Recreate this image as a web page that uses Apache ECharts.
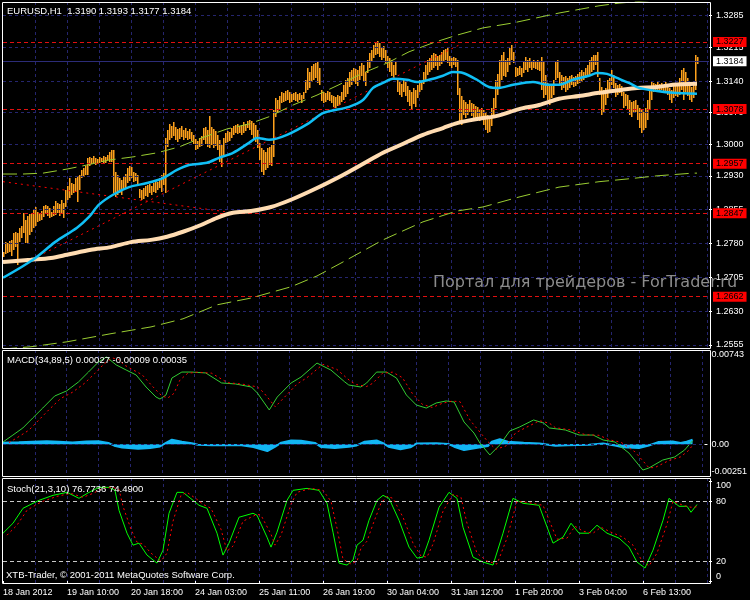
<!DOCTYPE html>
<html><head><meta charset="utf-8">
<script src="https://cdn.jsdelivr.net/npm/echarts@6/dist/echarts.min.js"></script>
<style>html,body{margin:0;padding:0;background:#000;}#c{width:750px;height:600px;}</style>
</head><body><div id="c"></div>
<script>
// ---------- DATA ----------
const N_SLOTS = 354;            // bar slots on the time axis (incl. right shift)
const LABEL_STEP = 32, GRID_STEP = 16;
const xLabels = ['18 Jan 2012','19 Jan 10:00','20 Jan 18:00','24 Jan 03:00','25 Jan 11:00','26 Jan 19:00','30 Jan 04:00','31 Jan 12:00','1 Feb 20:00','3 Feb 04:00','6 Feb 13:00'];
const priceTicks = [1.3285,1.3215,1.3140,1.3070,1.3000,1.2930,1.2855,1.2780,1.2705,1.2630,1.2555];
const levels = [1.3227,1.3078,1.2957,1.2847,1.2662];
const bidPrice = 1.3184;
const macdTicks = [-0.00251, 0, 0.00743];
const macdTickText = ['-0.00251','0.00','0.00743'];
const stochTicks = [0, 20, 80, 100];
const stochLevels = [80, 20];

const barHigh = [
1.2761,1.2783,1.2781,1.2786,1.2788,1.2803,1.2806,1.2803,1.2815,1.2819,
1.2848,1.2832,1.2841,1.2846,1.2848,1.2854,1.2861,1.2850,1.2848,1.2852,
1.2863,1.2866,1.2863,1.2859,1.2850,1.2863,1.2874,1.2870,1.2868,1.2877,
1.2870,1.2899,1.2908,1.2925,1.2914,1.2912,1.2925,1.2930,1.2932,1.2943,
1.2948,1.2952,1.2970,1.2972,1.2970,1.2974,1.2970,1.2967,1.2972,1.2970,
1.2974,1.2972,1.2976,1.2983,1.2987,1.2987,1.2939,1.2932,1.2925,1.2921,
1.2930,1.2934,1.2948,1.2952,1.2950,1.2939,1.2936,1.2932,1.2901,1.2899,
1.2903,1.2908,1.2910,1.2912,1.2908,1.2914,1.2921,1.2917,1.2925,1.2932,
1.2936,1.3014,1.3032,1.3045,1.3041,1.3050,1.3038,1.3034,1.3036,1.3041,
1.3032,1.3036,1.3030,1.3034,1.3027,1.3021,1.3012,1.3007,1.3014,1.3018,
1.3036,1.3038,1.3032,1.3063,1.3038,1.3034,1.3030,1.3021,1.3010,1.2999,
1.3014,1.3025,1.3030,1.3027,1.3036,1.3041,1.3043,1.3045,1.3041,1.3043,
1.3050,1.3045,1.3052,1.3054,1.3052,1.3047,1.3043,1.3032,1.3003,1.2992,
1.2987,1.2983,1.2992,1.2994,1.2999,1.3076,1.3103,1.3098,1.3107,1.3116,
1.3114,1.3118,1.3120,1.3116,1.3112,1.3114,1.3116,1.3112,1.3114,1.3109,
1.3116,1.3143,1.3169,1.3160,1.3174,1.3178,1.3180,1.3183,1.3169,1.3120,
1.3116,1.3114,1.3118,1.3116,1.3109,1.3107,1.3105,1.3109,1.3107,1.3116,
1.3132,1.3143,1.3147,1.3160,1.3165,1.3169,1.3167,1.3165,1.3174,1.3180,
1.3176,1.3160,1.3187,1.3202,1.3209,1.3220,1.3227,1.3229,1.3225,1.3214,
1.3218,1.3209,1.3196,1.3191,1.3187,1.3176,1.3183,1.3143,1.3138,1.3134,
1.3143,1.3138,1.3129,1.3120,1.3116,1.3125,1.3120,1.3132,1.3143,1.3138,
1.3160,1.3176,1.3187,1.3191,1.3198,1.3202,1.3200,1.3196,1.3198,1.3205,
1.3209,1.3211,1.3214,1.3196,1.3191,1.3194,1.3191,1.3187,1.3125,1.3107,
1.3098,1.3094,1.3089,1.3098,1.3092,1.3089,1.3085,1.3083,1.3078,1.3081,
1.3076,1.3072,1.3065,1.3058,1.3081,1.3103,1.3143,1.3156,1.3187,1.3198,
1.3205,1.3187,1.3191,1.3214,1.3220,1.3205,1.3171,1.3169,1.3174,1.3169,
1.3183,1.3194,1.3187,1.3191,1.3183,1.3187,1.3185,1.3187,1.3183,1.3194,
1.3183,1.3154,1.3136,1.3132,1.3134,1.3143,1.3183,1.3187,1.3160,1.3154,
1.3149,1.3152,1.3147,1.3152,1.3154,1.3149,1.3152,1.3156,1.3160,1.3165,
1.3160,1.3169,1.3176,1.3187,1.3194,1.3198,1.3198,1.3205,1.3147,1.3127,
1.3120,1.3125,1.3143,1.3147,1.3165,1.3154,1.3136,1.3132,1.3134,1.3129,
1.3116,1.3112,1.3109,1.3098,1.3094,1.3096,1.3098,1.3087,1.3081,1.3076,
1.3072,1.3081,1.3098,1.3125,1.3138,1.3136,1.3134,1.3138,1.3134,1.3136,
1.3132,1.3138,1.3134,1.3125,1.3120,1.3129,1.3134,1.3132,1.3147,1.3165,
1.3169,1.3160,1.3147,1.3132,1.3127,1.3138,1.3198,1.3193];
const barLow = [
1.2750,1.2757,1.2759,1.2761,1.2752,1.2766,1.2772,1.2733,1.2783,1.2792,
1.2803,1.2781,1.2779,1.2799,1.2806,1.2815,1.2819,1.2828,1.2830,1.2832,
1.2839,1.2846,1.2841,1.2837,1.2839,1.2841,1.2843,1.2848,1.2841,1.2846,
1.2837,1.2861,1.2877,1.2881,1.2888,1.2892,1.2894,1.2872,1.2899,1.2925,
1.2928,1.2932,1.2932,1.2952,1.2956,1.2959,1.2954,1.2956,1.2959,1.2961,
1.2959,1.2959,1.2965,1.2961,1.2961,1.2892,1.2883,1.2888,1.2892,1.2888,
1.2899,1.2903,1.2914,1.2919,1.2925,1.2917,1.2919,1.2910,1.2881,1.2877,
1.2879,1.2885,1.2883,1.2892,1.2888,1.2894,1.2892,1.2899,1.2903,1.2894,
1.2910,1.2892,1.2994,1.3010,1.3014,1.3018,1.3010,1.3005,1.3012,1.3016,
1.3010,1.3014,1.3010,1.3012,1.3007,1.3001,1.2987,1.2990,1.2994,1.2996,
1.3010,1.3001,1.2994,1.2992,1.2999,1.2992,1.2996,1.2987,1.2961,1.2950,
1.2976,1.3003,1.3005,1.3007,1.3014,1.3021,1.3025,1.3023,1.3025,1.3021,
1.3025,1.3030,1.3036,1.3032,1.3021,1.3010,1.3005,1.2992,1.2965,1.2939,
1.2932,1.2943,1.2948,1.2954,1.2952,1.2972,1.3061,1.3069,1.3076,1.3092,
1.3094,1.3096,1.3098,1.3092,1.3094,1.3098,1.3096,1.3094,1.3098,1.3092,
1.3101,1.3114,1.3120,1.3125,1.3138,1.3143,1.3147,1.3136,1.3132,1.3096,
1.3092,1.3094,1.3098,1.3096,1.3092,1.3083,1.3081,1.3085,1.3087,1.3094,
1.3098,1.3105,1.3112,1.3127,1.3132,1.3138,1.3134,1.3129,1.3143,1.3152,
1.3138,1.3129,1.3158,1.3169,1.3183,1.3191,1.3198,1.3200,1.3194,1.3187,
1.3191,1.3180,1.3169,1.3160,1.3152,1.3143,1.3154,1.3116,1.3109,1.3105,
1.3116,1.3107,1.3094,1.3085,1.3076,1.3089,1.3083,1.3103,1.3116,1.3120,
1.3134,1.3143,1.3154,1.3160,1.3165,1.3169,1.3174,1.3165,1.3174,1.3178,
1.3183,1.3187,1.3180,1.3174,1.3169,1.3176,1.3171,1.3109,1.3050,1.3043,
1.3065,1.3058,1.3065,1.3072,1.3063,1.3058,1.3054,1.3061,1.3052,1.3054,
1.3043,1.3032,1.3025,1.3027,1.3041,1.3058,1.3081,1.3109,1.3127,1.3143,
1.3152,1.3149,1.3160,1.3176,1.3187,1.3180,1.3149,1.3152,1.3154,1.3149,
1.3158,1.3165,1.3160,1.3169,1.3165,1.3169,1.3167,1.3165,1.3163,1.3120,
1.3103,1.3109,1.3098,1.3087,1.3103,1.3109,1.3143,1.3147,1.3129,1.3120,
1.3125,1.3116,1.3120,1.3125,1.3132,1.3127,1.3129,1.3134,1.3136,1.3138,
1.3143,1.3147,1.3152,1.3154,1.3160,1.3165,1.3176,1.3149,1.3109,1.3065,
1.3072,1.3087,1.3103,1.3116,1.3132,1.3125,1.3105,1.3109,1.3114,1.3107,
1.3081,1.3085,1.3076,1.3065,1.3061,1.3069,1.3072,1.3054,1.3036,1.3025,
1.3032,1.3036,1.3054,1.3076,1.3098,1.3116,1.3116,1.3120,1.3118,1.3120,
1.3116,1.3118,1.3109,1.3098,1.3092,1.3103,1.3107,1.3105,1.3109,1.3120,
1.3098,1.3116,1.3107,1.3098,1.3094,1.3103,1.3120,1.3177];

// moving averages / envelopes as [bar, price]
const maFast = [[0,1.2704],[15,1.2744],[26,1.2783],[37,1.2815],[43,1.2839],[48,1.2866],[55,1.2888],[63,1.2905],[72,1.2914],[80,1.2925],[87,1.2943],[93,1.2954],[102,1.2959],[108,1.2970],[115,1.2981],[123,1.3003],[127,1.3014],[133,1.3010],[142,1.3021],[153,1.3047],[160,1.3069],[173,1.3083],[180,1.3098],[185,1.3125],[190,1.3136],[195,1.3145],[202,1.3143],[207,1.3138],[213,1.3143],[220,1.3152],[225,1.3160],[230,1.3158],[237,1.3143],[243,1.3127],[248,1.3125],[255,1.3132],[265,1.3138],[272,1.3132],[278,1.3132],[285,1.3143],[293,1.3152],[297,1.3158],[302,1.3156],[307,1.3147],[313,1.3136],[318,1.3125],[327,1.3118],[335,1.3114],[347,1.3112]];
const maSlow = [[0,1.2739],[14,1.2744],[24,1.2748],[32,1.2755],[44,1.2766],[54,1.2772],[64,1.2783],[74,1.2788],[82,1.2795],[90,1.2806],[99,1.2821],[107,1.2837],[115,1.2848],[124,1.2852],[134,1.2861],[144,1.2877],[157,1.2903],[170,1.2932],[179,1.2954],[190,1.2981],[199,1.2999],[210,1.3021],[220,1.3036],[227,1.3047],[237,1.3056],[247,1.3063],[258,1.3078],[268,1.3087],[278,1.3101],[288,1.3107],[298,1.3114],[308,1.3120],[317,1.3125],[327,1.3127],[335,1.3132],[347,1.3134]];
const envUpper = [[0,1.2934],[10,1.2934],[20,1.2936],[32,1.2945],[42,1.2954],[53,1.2965],[65,1.2972],[77,1.2981],[88,1.2994],[98,1.3012],[112,1.3034],[123,1.3045],[133,1.3061],[145,1.3087],[157,1.3109],[168,1.3132],[180,1.3158],[192,1.3180],[203,1.3205],[215,1.3225],[227,1.3242],[240,1.3258],[255,1.3269],[278,1.3291],[298,1.3307],[308,1.3313],[347,1.3327]];
const envLower = [[0,1.2546],[14,1.2551],[32,1.2562],[54,1.2580],[74,1.2595],[90,1.2613],[107,1.2644],[124,1.2659],[144,1.2684],[157,1.2708],[170,1.2739],[190,1.2788],[210,1.2828],[227,1.2852],[240,1.2861],[258,1.2883],[278,1.2905],[298,1.2917],[312,1.2923],[327,1.2930],[345,1.2936],[347,1.2936]];
const trendLines = [[[0,1.2917],[112,1.2850]],[[15,1.2746],[228,1.3220]]];

// MACD(34,89,5) as [bar, value]
const macdMain = [[0,0.00017],[5,0.00072],[10,0.00128],[15,0.00207],[20,0.00285],[26,0.00380],[32,0.00420],[38,0.00491],[43,0.00569],[48,0.00648],[52,0.00688],[53,0.00680],[57,0.00625],[62,0.00585],[67,0.00546],[72,0.00451],[77,0.00372],[79,0.00356],[82,0.00388],[85,0.00522],[90,0.00569],[95,0.00569],[102,0.00562],[110,0.00483],[117,0.00475],[125,0.00451],[128,0.00404],[134,0.00270],[138,0.00372],[145,0.00483],[150,0.00530],[158,0.00640],[165,0.00585],[172,0.00491],[174,0.00467],[180,0.00451],[183,0.00483],[188,0.00569],[193,0.00569],[198,0.00522],[203,0.00388],[208,0.00309],[213,0.00285],[218,0.00325],[223,0.00341],[227,0.00333],[232,0.00175],[237,0.00088],[240,0.00009],[245,-0.00085],[250,-0.00006],[255,0.00104],[260,0.00136],[267,0.00191],[272,0.00167],[275,0.00128],[283,0.00112],[290,0.00072],[297,0.00072],[302,0.00033],[308,0.00017],[315,-0.00070],[322,-0.00204],[325,-0.00188],[332,-0.00125],[338,-0.00101],[343,-0.00046],[347,0.00027]];
const macdSignal = [[3,0.00012],[8,0.00060],[13,0.00110],[18,0.00190],[23,0.00270],[29,0.00360],[35,0.00410],[41,0.00480],[46,0.00555],[51,0.00635],[55,0.00680],[58,0.00670],[61,0.00625],[65,0.00590],[70,0.00548],[75,0.00460],[80,0.00380],[83,0.00365],[86,0.00400],[89,0.00505],[93,0.00560],[98,0.00568],[105,0.00560],[113,0.00485],[120,0.00475],[128,0.00452],[131,0.00410],[137,0.00295],[141,0.00360],[148,0.00475],[153,0.00525],[161,0.00630],[168,0.00590],[175,0.00495],[178,0.00470],[183,0.00455],[186,0.00480],[191,0.00560],[196,0.00568],[201,0.00525],[206,0.00400],[211,0.00315],[216,0.00290],[221,0.00322],[226,0.00340],[230,0.00335],[235,0.00190],[240,0.00095],[244,0.00020],[248,-0.00040],[253,-0.00015],[258,0.00090],[263,0.00130],[270,0.00185],[275,0.00165],[278,0.00130],[286,0.00112],[293,0.00075],[300,0.00070],[305,0.00035],[311,0.00015],[318,-0.00060],[325,-0.00185],[328,-0.00185],[335,-0.00130],[341,-0.00100],[345,-0.00050],[347,-0.00009]];
const macdHist = [[0,0.00012],[8,0.00015],[15,0.00020],[22,0.00024],[28,0.00020],[35,0.00014],[42,0.00022],[48,0.00024],[53,0.00010],[56,-0.00012],[60,-0.00026],[68,-0.00036],[74,-0.00030],[79,-0.00018],[82,0.00010],[85,0.00035],[90,0.00020],[95,0.00008],[98,-0.00005],[105,-0.00008],[120,-0.00008],[126,-0.00022],[133,-0.00055],[137,-0.00020],[140,0.00012],[145,0.00030],[150,0.00028],[157,0.00010],[160,-0.00022],[167,-0.00030],[174,-0.00020],[178,-0.00010],[182,0.00020],[188,0.00030],[191,0.00010],[194,-0.00020],[200,-0.00040],[205,-0.00025],[208,0.00005],[218,0.00008],[224,0.00002],[227,-0.00020],[232,-0.00047],[238,-0.00030],[244,-0.00015],[246,0.00020],[250,0.00040],[254,0.00020],[262,0.00012],[270,0.00005],[278,-0.00012],[284,-0.00008],[295,-0.00005],[302,0.00005],[308,-0.00010],[312,-0.00025],[320,-0.00030],[325,-0.00010],[330,0.00018],[337,0.00022],[341,0.00010],[344,0.00020],[347,0.00035]];

// Stoch(21,3,10) as [bar, value]
const stochMain = [[0,48],[5,58],[10,73],[15,78],[18,81],[25,86],[32,89],[38,83],[43,89],[48,94],[53,94],[56,91],[58,71],[62,48],[65,36],[68,38],[72,26],[77,18],[80,31],[83,68],[87,89],[90,89],[95,81],[98,76],[102,73],[107,48],[110,26],[113,38],[118,64],[125,68],[127,66],[132,44],[134,34],[137,49],[142,81],[145,91],[152,93],[158,91],[162,78],[165,49],[168,18],[172,16],[175,21],[177,36],[180,41],[183,61],[187,81],[190,86],[193,83],[198,61],[203,34],[207,23],[210,24],[213,41],[218,74],[223,89],[227,83],[230,54],[235,24],[240,19],[245,16],[250,48],[255,83],[260,78],[268,76],[275,38],[280,44],[284,58],[288,48],[293,48],[297,56],[302,48],[308,43],[313,34],[317,19],[321,13],[325,31],[330,61],[333,83],[338,75],[342,75],[344,69],[347,76.7736]];
const stochSignal = [[2,46],[7,56],[12,71],[17,77],[20,80],[27,85],[34,88],[40,84],[45,88],[50,93],[55,94],[58,92],[60,75],[64,52],[67,39],[70,37],[74,28],[79,20],[82,28],[85,60],[89,86],[92,89],[97,82],[100,77],[104,73],[109,52],[112,30],[115,35],[120,60],[127,67],[129,66],[134,47],[136,36],[139,46],[144,77],[147,89],[154,93],[160,91],[164,80],[167,53],[170,22],[174,17],[177,20],[179,33],[182,40],[185,57],[189,78],[192,85],[195,83],[200,64],[205,38],[209,25],[212,24],[215,37],[220,70],[225,87],[229,84],[232,58],[237,28],[242,20],[247,17],[252,43],[257,80],[262,79],[270,76],[277,42],[282,43],[286,55],[290,50],[295,48],[299,54],[304,49],[310,44],[315,36],[319,22],[323,15],[327,28],[332,57],[335,80],[340,76],[344,74],[347,74.49]];

// ---------- CHART ----------
const FONT = 'Liberation Sans';
const NAVY = '#25256e';
const BAR_COLOR = '#ffa21c';
const cats = Array.from({length: N_SLOTS}, (_, i) => String(i));
const isGrid = (i) => i > 0 && i % GRID_STEP === 0;
const isLabel = (i) => i % LABEL_STEP === 0 && (i / LABEL_STEP) < xLabels.length;

function xAxisFor(gi, showLabels) {
  return {
    type: 'category', gridIndex: gi, data: cats, boundaryGap: false,
    axisLine: {show: false},
    axisTick: {show: showLabels, interval: (i) => isLabel(i), length: 3, lineStyle: {color: '#fff'}},
    axisLabel: {show: showLabels, interval: (i) => isLabel(i), formatter: (v, i) => xLabels[Math.round(i / LABEL_STEP)] || '',
      align: 'left', margin: 5, color: '#fff', fontFamily: FONT, fontSize: 9},
    splitLine: {show: true, interval: (i) => isGrid(i), lineStyle: {color: NAVY, type: [3, 3], width: 1}}
  };
}
const yLabelBase = {color: '#fff', fontFamily: FONT, fontSize: 9, margin: 7};
const pairs = (arr) => arr.map(p => [p[0], p[1]]);
const hLines = (vals) => vals.map(v => ({yAxis: v}));

const option = {
  backgroundColor: '#000',
  animation: false,
  grid: [
    {left: 3, right: 41, top: 2, height: 346},
    {left: 3, right: 41, top: 350, height: 126},
    {left: 3, right: 41, top: 478, height: 105}
  ],
  xAxis: [xAxisFor(0, false), xAxisFor(1, false), xAxisFor(2, true)],
  yAxis: [
    {type: 'value', gridIndex: 0, position: 'right', min: 1.254826, max: 1.331544, splitLine: {show: false}, axisLine: {show: false},
      axisTick: {show: true, customValues: priceTicks, length: 3, lineStyle: {color: '#fff'}},
      axisLabel: Object.assign({customValues: priceTicks, formatter: (v) => v.toFixed(4)}, yLabelBase)},
    {type: 'value', gridIndex: 1, position: 'right', min: -0.00251, max: 0.00743, splitLine: {show: false}, axisLine: {show: false},
      axisTick: {show: true, customValues: macdTicks, length: 3, lineStyle: {color: '#fff'}},
      axisLabel: Object.assign({customValues: macdTicks, verticalAlignMaxLabel: 'top', verticalAlignMinLabel: 'bottom',
        formatter: (v) => { let b = 0; macdTicks.forEach((t, k) => { if (Math.abs(t - v) < Math.abs(macdTicks[b] - v)) b = k; }); return macdTickText[b]; }}, yLabelBase)},
    {type: 'value', gridIndex: 2, position: 'right', min: -2, max: 103.4, splitLine: {show: false}, axisLine: {show: false},
      axisTick: {show: true, customValues: stochTicks, length: 3, lineStyle: {color: '#fff'}},
      axisLabel: Object.assign({customValues: stochTicks, verticalAlignMaxLabel: 'top', verticalAlignMinLabel: 'bottom',
        formatter: (v) => String(Math.round(v))}, yLabelBase)}
  ],
  series: [
    // price grid lines
    {type: 'line', xAxisIndex: 0, yAxisIndex: 0, data: [], z: 1, silent: true,
      markLine: {silent: true, precision: 4, symbol: ['none', 'none'], label: {show: false}, animation: false,
        lineStyle: {color: NAVY, type: [3, 3], width: 1}, data: hLines(priceTicks)}},
    // bid line
    {type: 'line', xAxisIndex: 0, yAxisIndex: 0, data: [], zlevel: 1, z: 2, silent: true,
      markLine: {silent: true, precision: 4, symbol: ['none', 'none'], animation: false,
        lineStyle: {color: '#2c2c78', type: 'solid', width: 1},
        label: {show: true, position: 'end', distance: 4, formatter: (p) => Number(p.value).toFixed(4), color: '#000', backgroundColor: '#fff',
          padding: [1, 3, 0, 3], fontFamily: FONT, fontSize: 9},
        data: hLines([bidPrice])}},
    // red levels
    {type: 'line', xAxisIndex: 0, yAxisIndex: 0, data: [], zlevel: 1, z: 3, silent: true,
      markLine: {silent: true, precision: 4, symbol: ['none', 'none'], animation: false,
        lineStyle: {color: '#e01010', type: [4, 3], width: 1},
        label: {show: true, position: 'end', distance: 4, formatter: (p) => Number(p.value).toFixed(4), color: '#000', backgroundColor: '#ff0000',
          padding: [1, 3, 0, 3], fontFamily: FONT, fontSize: 9},
        data: hLines(levels)}},
    // trend lines
    {type: 'line', xAxisIndex: 0, yAxisIndex: 0, data: [], z: 3, silent: true,
      markLine: {silent: true, precision: 4, symbol: ['none', 'none'], animation: false, label: {show: false},
        lineStyle: {color: '#ff0000', type: [2, 4], width: 1},
        data: trendLines.map(t => [{coord: t[0]}, {coord: t[1]}])}},
    // price bars (high-low)
    {type: 'custom', xAxisIndex: 0, yAxisIndex: 0, z: 4, silent: true,
      itemStyle: {color: BAR_COLOR},
      data: barLow.map((l, i) => [i, l, barHigh[i]]),
      encode: {x: 0, y: [1, 2]},
      renderItem: (params, api) => {
        const i = api.value(0);
        const a = api.coord([i, api.value(1)]);
        const b = api.coord([i, api.value(2)]);
        const x = Math.round(a[0]);
        const yTop = Math.round(b[1]);
        const h = Math.max(1, Math.round(a[1]) - yTop);
        return {type: 'rect', shape: {x: x, y: yTop, width: 1.5, height: h},
          style: {fill: BAR_COLOR, stroke: null}};
      }},
    {type: 'line', xAxisIndex: 0, yAxisIndex: 0, data: pairs(envUpper), showSymbol: false, z: 5, silent: true,
      lineStyle: {color: '#9acd32', width: 1, type: [14, 6]}},
    {type: 'line', xAxisIndex: 0, yAxisIndex: 0, data: pairs(envLower), showSymbol: false, z: 5, silent: true,
      lineStyle: {color: '#9acd32', width: 1, type: [14, 6]}},
    {type: 'line', xAxisIndex: 0, yAxisIndex: 0, data: pairs(maSlow), showSymbol: false, smooth: 0.3, z: 6, silent: true,
      lineStyle: {color: '#ffdcb2', width: 4}},
    {type: 'line', xAxisIndex: 0, yAxisIndex: 0, data: pairs(maFast), showSymbol: false, smooth: 0.3, z: 7, silent: true,
      lineStyle: {color: '#10bff5', width: 2.5}},

    // MACD panel
    {type: 'line', xAxisIndex: 1, yAxisIndex: 1, data: pairs(macdHist), showSymbol: false, z: 3, silent: true,
      lineStyle: {width: 2, color: '#12b6f4'}, areaStyle: {color: '#12b6f4', opacity: 1},
      markLine: {silent: true, precision: 6, symbol: ['none', 'none'], label: {show: false}, animation: false,
        lineStyle: {color: NAVY, type: [3, 3], width: 1}, data: hLines([0])}},
    {type: 'line', xAxisIndex: 1, yAxisIndex: 1, data: pairs(macdMain), showSymbol: false, z: 4, silent: true,
      lineStyle: {color: '#32cd32', width: 1}},
    {type: 'line', xAxisIndex: 1, yAxisIndex: 1, data: pairs(macdSignal), showSymbol: false, z: 5, silent: true,
      lineStyle: {color: '#ff0000', width: 1, type: [2, 3]}},

    // Stoch panel
    {type: 'line', xAxisIndex: 2, yAxisIndex: 2, data: [], z: 2, silent: true,
      markLine: {silent: true, precision: 2, symbol: ['none', 'none'], label: {show: false}, animation: false,
        lineStyle: {color: '#c8c8c8', type: [4, 3], width: 1}, data: hLines(stochLevels)}},
    {type: 'line', xAxisIndex: 2, yAxisIndex: 2, data: pairs(stochMain), showSymbol: false, z: 4, silent: true,
      lineStyle: {color: '#00ff00', width: 1}},
    {type: 'line', xAxisIndex: 2, yAxisIndex: 2, data: pairs(stochSignal), showSymbol: false, z: 5, silent: true,
      lineStyle: {color: '#ff0000', width: 1, type: [2, 3]}}
  ],
  graphic: [
    {type: 'rect', silent: true, zlevel: 1, z: 100, shape: {x: 2.5, y: 2.5, width: 708, height: 346}, style: {fill: 'none', stroke: '#fff', lineWidth: 1}},
    {type: 'rect', silent: true, zlevel: 1, z: 100, shape: {x: 2.5, y: 350.5, width: 708, height: 126}, style: {fill: 'none', stroke: '#fff', lineWidth: 1}},
    {type: 'rect', silent: true, zlevel: 1, z: 100, shape: {x: 2.5, y: 478.5, width: 708, height: 105}, style: {fill: 'none', stroke: '#fff', lineWidth: 1}},
    {type: 'text', silent: true, zlevel: 1, z: 100, x: 7, y: 11, style: {text: 'EURUSD,H1  1.3190 1.3193 1.3177 1.3184', fill: '#fff', font: '9.5px "Liberation Sans"', verticalAlign: 'middle'}},
    {type: 'text', silent: true, zlevel: 1, z: 100, x: 7, y: 360, style: {text: 'MACD(34,89,5) 0.00027 -0.00009 0.00035', fill: '#fff', font: '9.5px "Liberation Sans"', verticalAlign: 'middle'}},
    {type: 'text', silent: true, zlevel: 1, z: 100, x: 7, y: 489, style: {text: 'Stoch(21,3,10) 76.7736 74.4900', fill: '#fff', font: '9.5px "Liberation Sans"', verticalAlign: 'middle'}},
    {type: 'text', silent: true, zlevel: 1, z: 100, x: 6, y: 575, style: {text: 'XTB-Trader, \u00a9 2001-2011 MetaQuotes Software Corp.', fill: '#fff', font: '9.5px "Liberation Sans"', verticalAlign: 'middle'}},
    {type: 'text', silent: true, zlevel: 1, z: 90, x: 433, y: 283, style: {text: 'Портал для трейдеров - ForTrader.ru', fill: '#8c8c8c', font: '16px "DejaVu Sans"', verticalAlign: 'middle'}}
  ]
};
const chart = echarts.init(document.getElementById('c'), null, {renderer: 'canvas'});
chart.setOption(option);
</script>
</body></html>
